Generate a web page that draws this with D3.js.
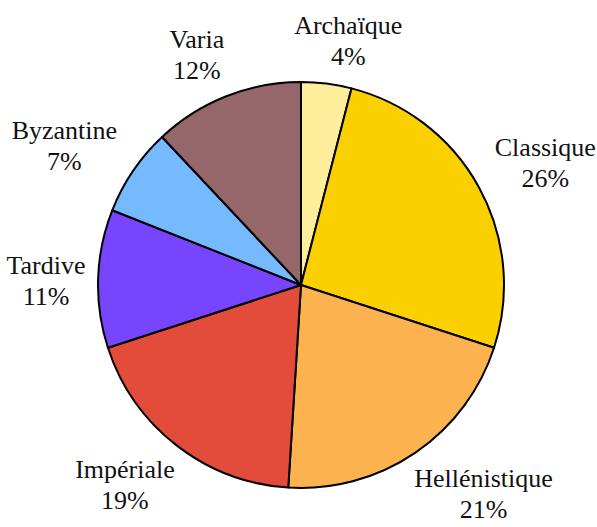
<!DOCTYPE html>
<html>
<head>
<meta charset="utf-8">
<script src="https://cdn.jsdelivr.net/npm/d3@7"></script>
</head>
<body style="margin:0;background:#fff">
<div id="wrap" style="position:relative;width:597px;height:527px;font-family:'Liberation Serif';font-size:26px">
	<svg id="chart" width="597" height="527" style="position:absolute;left:0;top:0"></svg>
</div>
<script>
// periods, clockwise from 12 o'clock
const periods = ["Archaïque", "Classique", "Hellénistique", "Impériale", "Tardive", "Byzantine", "Varia"];
const shares = [4, 26, 21, 19, 11, 7, 12];
const colors = ["#feed9b", "#fad000", "#fbb24f", "#e34b3b", "#7845ff", "#75b9ff", "#95666a"];
// small angular nudges (degrees) so labels sit where the original put them
const labelNudge = [3.8, 2.5, -6.8, 3.3, -1.3, -4, -2.9];

const svg = d3.select('#chart');
const wrap = d3.select('#wrap');
const cx = 301, cy = 285;
const radius = 203;
const labelGap = 215;	// distance from centre to nearest edge of label box
const baselineTop = 24.3;	// baseline of first line below the top of the label div

const g = svg.append('g').attr('transform', 'translate(' + cx + ',' + cy + ')');

const pie = d3.pie().sort(null).value(d => d);
const arcs = pie(shares);
const arc = d3.arc().innerRadius(0).outerRadius(radius);

g.selectAll('path.slice')
	.data(arcs)
	.join('path')
	.attr('class', 'slice')
	.attr('d', arc)
	.attr('fill', (d, i) => colors[i])
	.attr('stroke', '#000')
	.attr('stroke-width', 2)
	.attr('stroke-linejoin', 'round');

// labels: two lines, pushed out along the slice direction until the box clears labelGap
arcs.forEach((d, i) => {
	const div = wrap.append('div')
		.attr('style', "position:absolute;font-family:'Liberation Serif';font-size:26px;line-height:31px;color:#111;text-align:center;white-space:nowrap")
		.html(periods[i] + '<br>' + shares[i] + '%');
	const w = div.node().offsetWidth;
	const h = 54;
	const a = (d.startAngle + d.endAngle) / 2 + labelNudge[i] * Math.PI / 180;
	const ux = Math.sin(a), uy = -Math.cos(a);
	let r = 0, px = 0, py = 0;
	for (r = 0; r < 400; r += 0.5) {
		px = r * ux; py = r * uy;
		const ex = Math.max(0, Math.abs(px) - w / 2);
		const ey = Math.max(0, Math.abs(py) - h / 2);
		if (Math.sqrt(ex * ex + ey * ey) >= labelGap) break;
	}
	div.style('left', (cx + px - w / 2) + 'px')
		.style('top', (cy + py - 8 - baselineTop) + 'px');
});
</script>
</body>
</html>
